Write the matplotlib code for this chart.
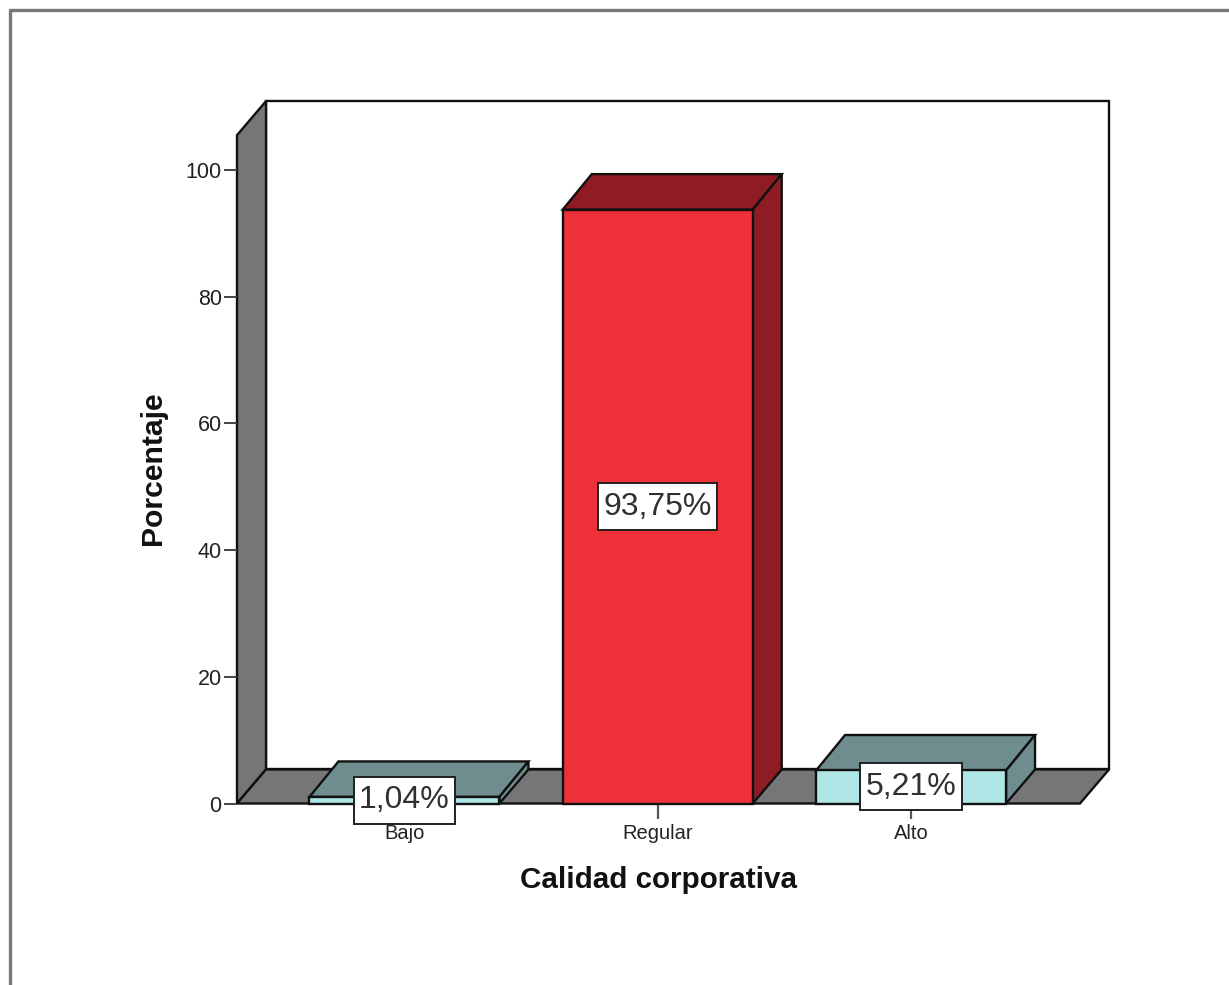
import matplotlib
matplotlib.use("Agg")
import matplotlib.pyplot as plt
from matplotlib.lines import Line2D
from matplotlib.patches import Polygon
from matplotlib.path import Path

plt.rcParams["font.family"] = ["Liberation Sans", "DejaVu Sans"]

categories = ["Bajo", "Regular", "Alto"]
percentages = [1.04, 93.75, 5.21]
value_labels = ["1,04%", "93,75%", "5,21%"]
y_ticks = [0, 20, 40, 60, 80, 100]

front_colors = ["#AEE5E5", "#EE3038", "#AEE5E5"]
top_colors = ["#6F8C8E", "#8E1C22", "#6F8C8E"]
side_colors = ["#6F8C8E", "#8E1C22", "#6F8C8E"]
wall_color = "#767676"
edge_color = "#101010"

W, H = 1229, 985
bar_width = 0.75
# depth of the 3D box, in data units
depth_x = 0.1145
depth_y = 5.37
bar_depth_y = 5.6
wall_top = 105.5
x_min, x_max = -0.661, 2.667

fig = plt.figure(figsize=(W / 100, H / 100), dpi=100, facecolor="white")
ax = fig.add_axes([237 / W, 1 - 803.5 / H, 843 / W, 633.5 / H])
ax.set_xlim(x_min, x_max)
ax.set_ylim(0, 100)
ax.patch.set_visible(False)
for s in ax.spines.values():
    s.set_visible(False)


def poly(points, color, z=2):
    ax.add_patch(Polygon(points, closed=True, facecolor=color, edgecolor=edge_color,
                         linewidth=1.7, joinstyle="miter", clip_on=False, zorder=z))


def label_box(x0, y0, width, height, mutation_size):
    # rectangle around a value label, padded more vertically than horizontally
    pad_x, pad_y = 5.5, 10.5
    cy = y0 + height / 2
    half = 13.0 + pad_y
    xa, xb = x0 - pad_x, x0 + width + pad_x
    ya, yb = cy - half, cy + half
    return Path([(xa, ya), (xb, ya), (xb, yb), (xa, yb), (xa, ya)], closed=True)


# back wall, left wall and floor
poly([(x_min + depth_x, depth_y), (x_max + depth_x, depth_y),
      (x_max + depth_x, wall_top + depth_y), (x_min + depth_x, wall_top + depth_y)], "white", 1)
poly([(x_min, 0), (x_min + depth_x, depth_y),
      (x_min + depth_x, wall_top + depth_y), (x_min, wall_top)], wall_color, 1)
poly([(x_min, 0), (x_max, 0), (x_max + depth_x, depth_y), (x_min + depth_x, depth_y)], wall_color, 1)

# bars: front, top and right faces
for i, val in enumerate(percentages):
    x0, x1 = i - bar_width / 2, i + bar_width / 2
    top = val + bar_depth_y
    poly([(x0, val), (x1, val), (x1 + depth_x, top), (x0 + depth_x, top)], top_colors[i])
    poly([(x1, 0), (x1 + depth_x, depth_y), (x1 + depth_x, top), (x1, val)], side_colors[i])
    poly([(x0, 0), (x1, 0), (x1, val), (x0, val)], front_colors[i])
    ax.text(i, val / 2, value_labels[i], ha="center", va="center", fontsize=23, color="#303030", zorder=6,
            bbox=dict(boxstyle=label_box, facecolor="white", edgecolor="#202020", linewidth=1.4))

ax.set_xticks(range(len(categories)))
ax.set_xticklabels(categories, fontsize=14.5, color="#222222")
ax.set_yticks(y_ticks)
ax.set_yticklabels([str(v) for v in y_ticks], fontsize=15.5, color="#222222")
ax.tick_params(axis="x", length=10.5, width=1.6, color="#555555", pad=4)
ax.tick_params(axis="y", length=9.5, width=1.4, color="#444444", pad=1.5)
ax.set_xlabel("Calidad corporativa", fontsize=21.3, fontweight="bold", color="#111111")
ax.set_ylabel("Porcentaje", fontsize=21.7, fontweight="bold", color="#111111")
ax.xaxis.set_label_coords((659 - 237) / 843, (803.5 - 880) / 633.5)
ax.yaxis.set_label_coords((153 - 237) / 843, (803.5 - 468) / 633.5)
ax.xaxis.label.set_verticalalignment("center")
ax.yaxis.label.set_verticalalignment("center")

# outer chart frame, open on the right and at the bottom
frame_x = [10 / W, 10 / W, 1.0]
frame_y = [0.0, 1 - 10 / H, 1 - 10 / H]
fig.add_artist(Line2D(frame_x, frame_y, color="#777777", linewidth=2.4, transform=fig.transFigure))

fig.savefig("out.png", dpi=100, facecolor="white")
